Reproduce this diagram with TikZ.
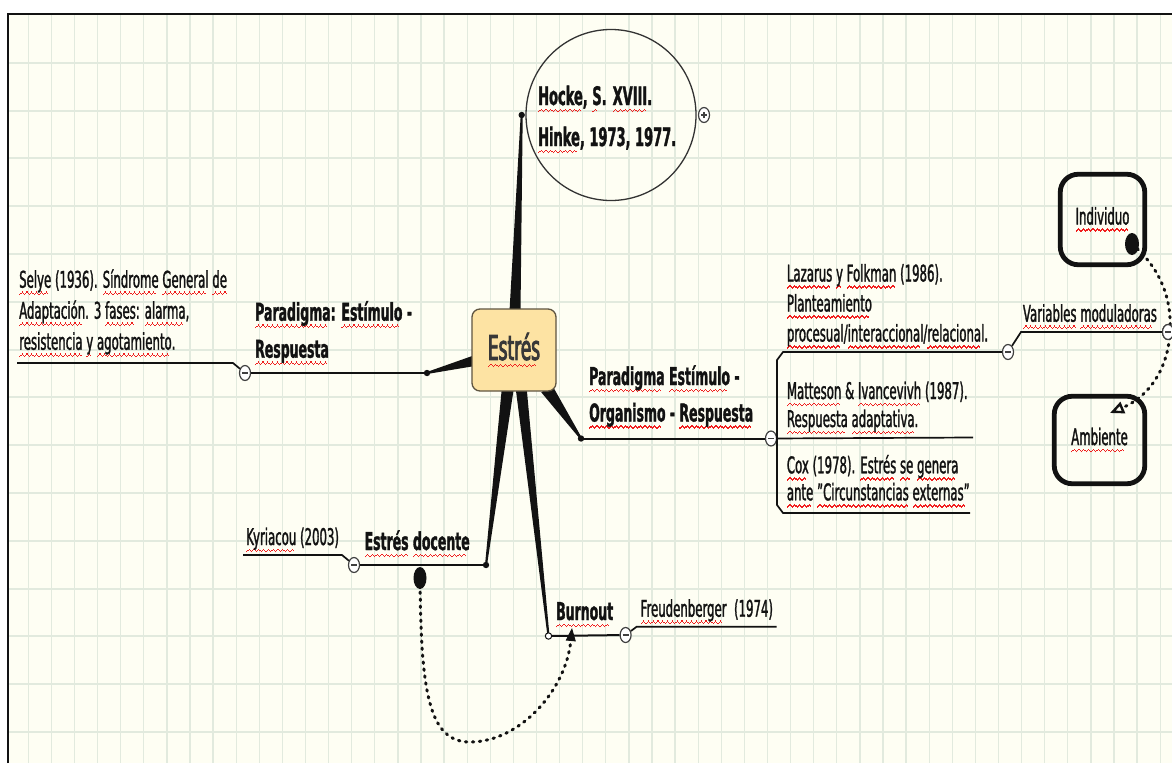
\documentclass[tikz,border=0pt]{standalone}
\usepackage{fontspec}
\setmainfont{DejaVu Sans}[FakeStretch=0.51, FakeBold=1.3]
\newfontfamily\centerfont{DejaVu Sans}[FakeStretch=0.5, FakeBold=2.6]
\usetikzlibrary{calc,arrows.meta,shapes.geometric}
\definecolor{bgc}{RGB}{254,254,243}
\definecolor{gridc}{RGB}{226,234,222}
\definecolor{boxc}{RGB}{253,227,163}
\definecolor{boxline}{RGB}{95,85,65}
\definecolor{inkc}{RGB}{18,18,18}
\definecolor{wavec}{RGB}{240,30,30}
\newsavebox\sqbox
\newcommand\sq[1]{\sbox\sqbox{#1}\rlap{\color{wavec}\leaders\hbox{\rule[-7.4pt]{1.2pt}{1.5pt}\rule[-6.3pt]{1.2pt}{1.5pt}\rule[-5.2pt]{1.2pt}{1.5pt}\rule[-6.3pt]{1.2pt}{1.5pt}}\hskip\wd\sqbox}\usebox\sqbox}
\newcommand\ml[2]{\vtop{\baselineskip=#1\lineskiplimit=-100pt\relax #2}}
\newcommand\brwedge[3]{\fill[inkc] ($(#1)!#3!90:(#2)$) -- ($(#2)!1pt!-90:(#1)$) -- ($(#2)!1pt!90:(#1)$) -- ($(#1)!#3!-90:(#2)$) -- cycle;}
\pgfdeclarelayer{gridlayer}
\pgfdeclarelayer{toplayer}
\pgfsetlayers{gridlayer,main,toplayer}

\begin{document}
\begin{tikzpicture}[x=1pt,y=-1pt,
  txt/.style={inner sep=0pt, anchor=base west, text=inkc, font=\fontsize{23}{29.5}\selectfont},
  ttl/.style={txt, font=\bfseries\fontsize{24.5}{37}\selectfont},
  uline/.style={draw=inkc, line width=1.7pt},
  mainline/.style={draw=inkc, line width=2pt},
  fold/.style={ellipse, draw=black!75, fill=white, line width=1.2pt, minimum width=11pt, minimum height=15pt, inner sep=0pt},
  foldminus/.style={fold, path picture={\draw[line width=1.4pt] ([xshift=-3pt]path picture bounding box.center) -- ([xshift=3pt]path picture bounding box.center);}},
  foldplus/.style={fold, path picture={\draw[line width=1.2pt] ([xshift=-3pt]path picture bounding box.center) -- ([xshift=3pt]path picture bounding box.center) ([yshift=-3pt]path picture bounding box.center) -- ([yshift=3pt]path picture bounding box.center);}},
  framebox/.style={draw=inkc, line width=4.8pt, rounded corners=18pt, inner sep=0pt, text=inkc, font=\fontsize{23}{29.5}\selectfont},
  dotlink/.style={draw=inkc, line width=3pt, line cap=round, dash pattern=on 1.5pt off 5.5pt},
]
\useasboundingbox (0,0) rectangle (1172,763);
\begin{pgfonlayer}{gridlayer}
  \fill[white] (0,0) rectangle (1172,763);
  \fill[bgc] (7.5,13.5) rectangle (1172,763);
  \foreach \i in {0,...,49} \draw[gridc, line width=1.3pt] ({28.3+23.1*\i},14) -- ({28.3+23.1*\i},763);
  \foreach \j in {0,...,14} \draw[gridc, line width=2pt] (8,{62.7+47.8*\j}) -- (1172,{62.7+47.8*\j});
  \draw[inkc, line width=2pt] (7.5,763) -- (7.5,13.5) -- (1172,13.5);
\end{pgfonlayer}

% central node
\begin{pgfonlayer}{toplayer}
  \node[draw=boxline, fill=boxc, rounded corners=8pt, line width=1.3pt, minimum width=84pt, minimum height=82pt, inner sep=0pt, font=\centerfont\fontsize{34}{40}\selectfont, text=black!78] (estres) at (514,350) {\sq{Estrés}};
\end{pgfonlayer}

% branch end points
\coordinate (hockeDot) at (521.7,115);
\coordinate (leftDot) at (427,373);
\coordinate (rightDot) at (581,438.5);
\coordinate (docDot) at (486,565);
\coordinate (burnDot) at (548.5,636);

% tapered branches
\brwedge{$(estres.north)+(1,3)$}{hockeDot}{5.5pt}
\brwedge{$(estres.west)+(6,10)$}{leftDot}{5.5pt}
\brwedge{$(estres.south east)+(-10,-3)$}{rightDot}{6.5pt}
\brwedge{$(estres.south)+(-6,-5)$}{docDot}{6pt}
\brwedge{$(estres.south)+(7,-5)$}{burnDot}{5.5pt}

% Hocke
\node[ellipse, draw=black!80, line width=1.3pt, minimum width=170pt, minimum height=171pt, inner sep=0pt] (hocke) at (611,115) {};
\node[txt, font=\bfseries\fontsize{25.5}{41}\selectfont] (hockeTxt) at (538,105) {\ml{41pt}{\hbox{\sq{Hocke}, \sq{S}. \sq{XVIII}.}\hbox{\sq{Hinke}, 1973, 1977.}}};
\node[foldplus] (hockeFold) at (704,115) {};
\fill[inkc] (hockeDot) circle (3.2pt);

% left branch
\node[foldminus] (f1) at (245,373) {};
\draw[mainline] (leftDot) -- (f1);
\fill[inkc] (leftDot) circle (3.2pt);
\node[ttl] (t1) at (255,320.7) {\ml{37pt}{\hbox{\sq{Paradigma}: \sq{Estímulo} -}\hbox{\sq{Respuesta}}}};
\coordinate (selyeKnee) at (233,363);
\coordinate (selyeEnd) at (17,363);
\draw[uline] (f1) -- (selyeKnee) -- (selyeEnd);
\node[txt] (selye) at (19,287.7) {\ml{31pt}{\hbox{\sq{Selye} (1936). \sq{Síndrome} \sq{General} \sq{de}}\hbox{\sq{Adaptación}. 3 \sq{fases}: \sq{alarma},}\hbox{\sq{resistencia} \sq{y} \sq{agotamiento}.}}};

% right branch
\node[foldminus] (f2) at (771,438.5) {};
\draw[mainline] (rightDot) -- (f2);
\fill[inkc] (rightDot) circle (3.2pt);
\node[ttl] (t2) at (589,385) {\ml{36.5pt}{\hbox{\sq{Paradigma} \sq{Estímulo} -}\hbox{\sq{Organismo} - \sq{Respuesta}}}};
\coordinate (lazStart) at (783,352);
\coordinate (brTop) at (777,360);
\coordinate (brBot) at (777,505);
\coordinate (coxStart) at (783,513);
\coordinate (coxEnd) at (970,513);
\coordinate (matEnd) at (973,437.5);
\node[foldminus] (f3) at (1008,352) {};
\draw[uline] (f3) -- (lazStart) -- (brTop) -- (brBot) -- (coxStart) -- (coxEnd);
\draw[uline] (f2) -- (matEnd);
\node[txt] (lazarus) at (786.7,281.5) {\ml{30pt}{\hbox{\sq{Lazarus} \sq{y} \sq{Folkman} (1986).}\hbox{\sq{Planteamiento}}\hbox{\sq{procesual}/\sq{interaccional}/\sq{relacional}.}}};
\node[txt] (matteson) at (786.7,399) {\ml{28pt}{\hbox{\sq{Matteson} \& \sq{Ivancevivh} (1987).}\hbox{\sq{Respuesta} \sq{adaptativa}.}}};
\node[txt] (cox) at (786.7,473.3) {\ml{27pt}{\hbox{\sq{Cox} (1978). \sq{Estrés} \sq{se} \sq{genera}}\hbox{\sq{ante} \sq{"Circunstancias} \sq{externas"}}}};

% variables moduladoras
\node[framebox, minimum width=84.5pt, minimum height=90.5pt] (ind) at (1102.5,219.5) {\sq{Individuo}};
\node[framebox, minimum width=90.5pt, minimum height=87.5pt] (amb) at (1099.5,440) {\sq{Ambiente}};
\coordinate (indDot) at (1132,244);
\coordinate (ambTip) at (1110,413);
\coordinate (varKnee) at (1021,332);
\node[foldminus] (f4) at (1168,332) {};
\draw[uline] (f3) -- (varKnee) -- (f4);
\node[txt] (vars) at (1022.7,321.7) {\sq{Variables} \sq{moduladoras}};
\draw[dotlink, -{Triangle[length=14pt, width=12pt, fill=bgc, line width=2.4pt]}] (indDot) .. controls (1160,268) and (1172,298) .. (1170,332) .. controls (1168,368) and (1150,396) .. (ambTip);
\fill[inkc] (indDot) ellipse [x radius=7pt, y radius=11pt];
\node[foldminus] at (f4) {};

% Estres docente
\node[foldminus] (f5) at (354,565) {};
\draw[mainline] (docDot) -- (f5);
\fill[inkc] (docDot) circle (3.2pt);
\node[ttl] (t5) at (364.4,550) {\sq{Estrés} \sq{docente}};
\coordinate (kyrKnee) at (342,555);
\coordinate (kyrEnd) at (243,555);
\draw[uline] (f5) -- (kyrKnee) -- (kyrEnd);
\node[txt] (kyr) at (246,545) {\sq{Kyriacou} (2003)};

% Burnout
\node[foldminus] (f6) at (625.6,635) {};
\draw[mainline] (burnDot) -- (f6);
\draw[inkc, fill=white, line width=1pt] (burnDot) circle (3.2pt);
\node[ttl] (t6) at (556,620) {\sq{Burnout}};
\coordinate (freKnee) at (636.7,626.7);
\coordinate (freEnd) at (776.7,626.7);
\draw[uline] (f6) -- (freKnee) -- (freEnd);
\node[txt] (freud) at (640.4,616.7) {\sq{Freudenberger}\ \ (1974)};

% dotted link docente -> burnout
\coordinate (docLinkDot) at (420,578);
\coordinate (burnTip) at (572,628);
\draw[dotlink, -{Triangle[length=13pt, width=10pt, line width=1pt]}] (docLinkDot) .. controls (421,690) and (428,742) .. (470,742) .. controls (520,742) and (566,690) .. (burnTip);
\fill[inkc] (docLinkDot) ellipse [x radius=6.5pt, y radius=11pt];
\end{tikzpicture}
\end{document}
